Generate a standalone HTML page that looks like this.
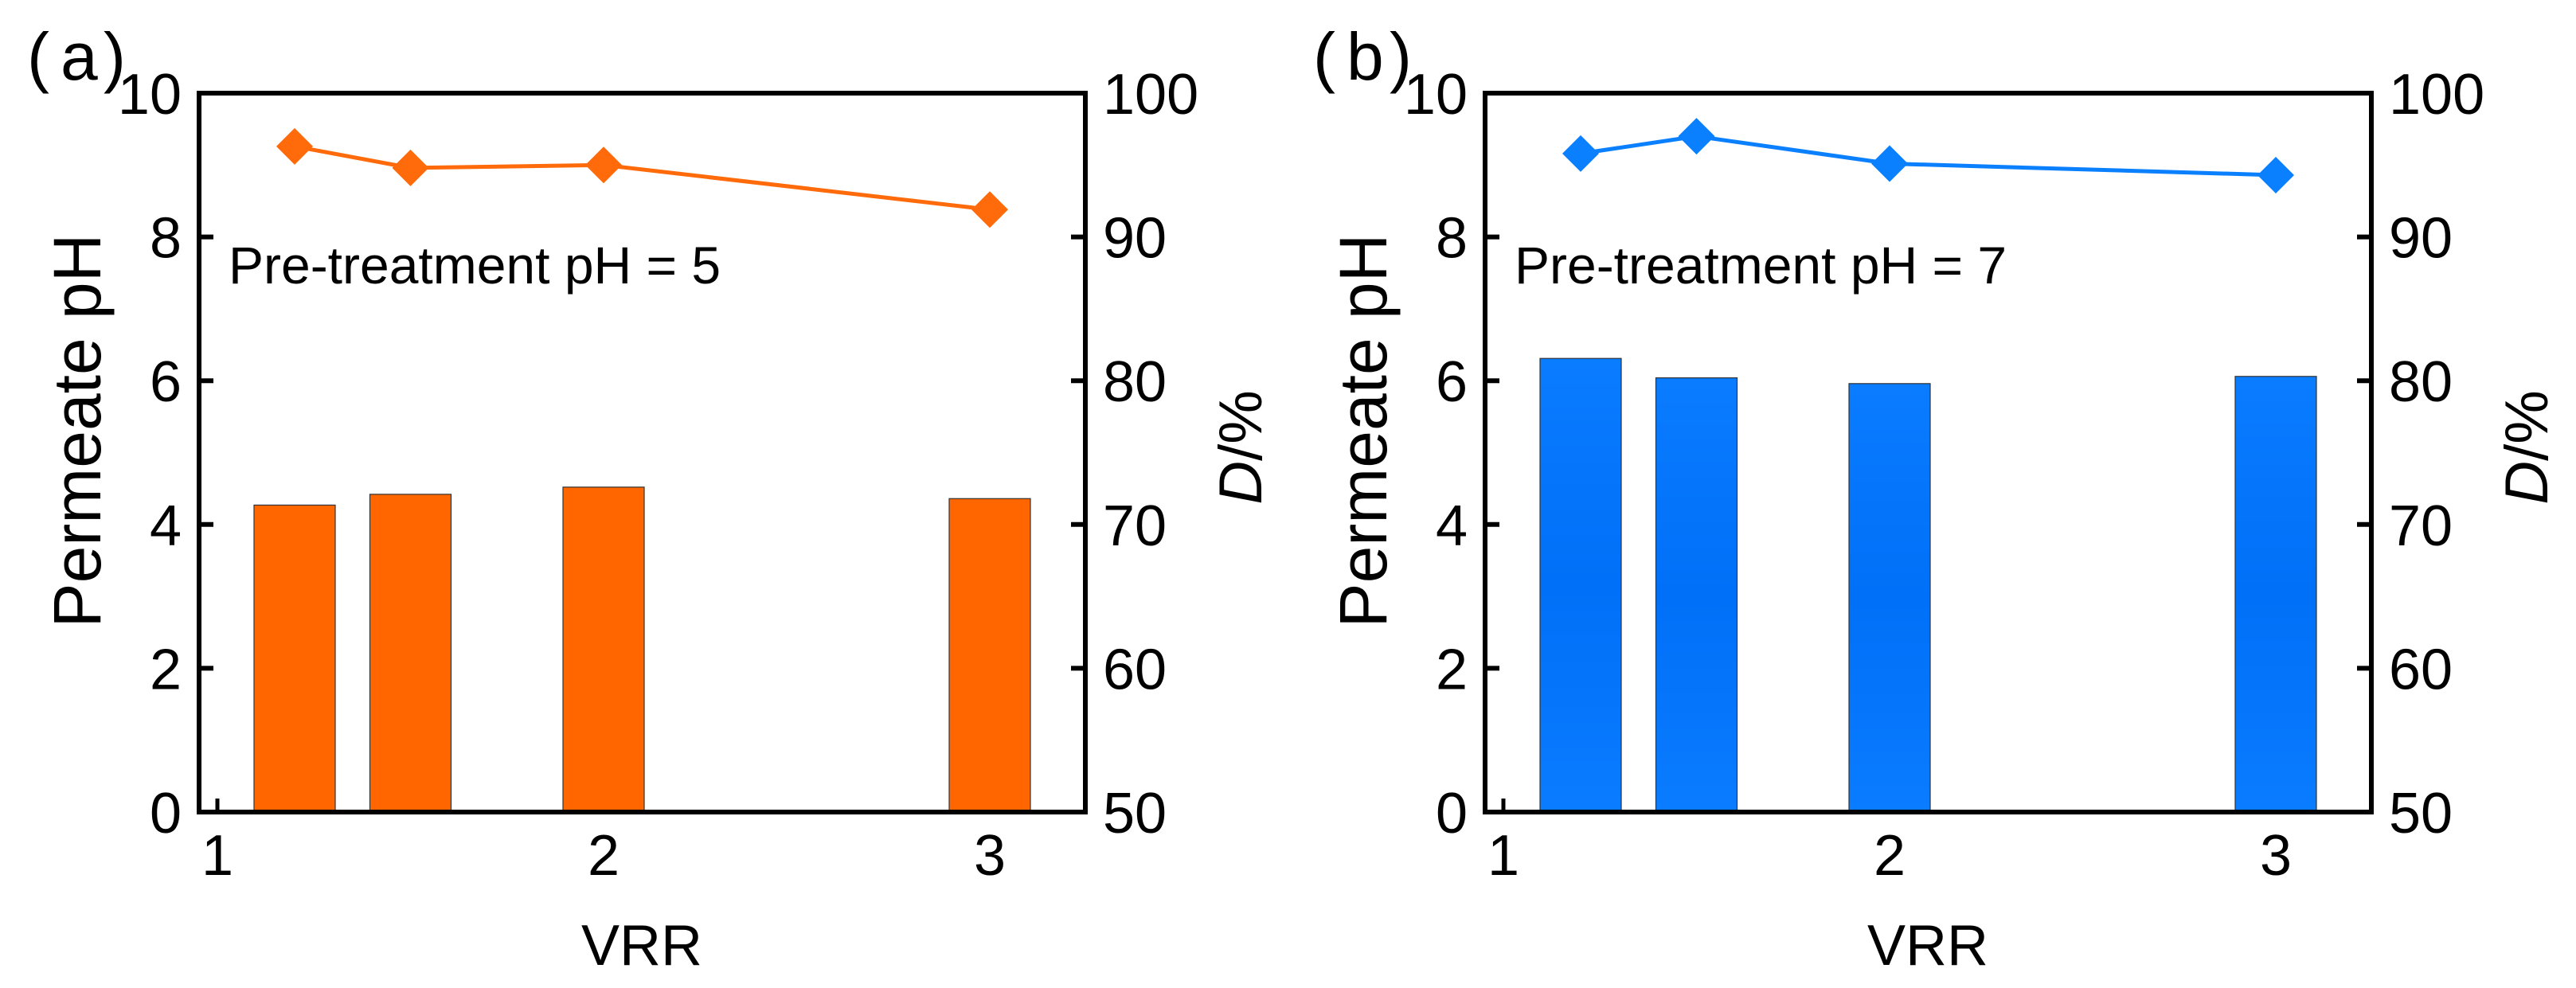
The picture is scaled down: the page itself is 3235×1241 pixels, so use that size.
<!DOCTYPE html>
<html><head><meta charset="utf-8"><style>
html,body{margin:0;padding:0;background:#fff;}
svg{display:block;font-family:"Liberation Sans",Arial,sans-serif;}
</style></head><body>
<svg id="fig" width="3235" height="1241" viewBox="0 0 3235 1241" xmlns="http://www.w3.org/2000/svg">
<defs>
<linearGradient id="blueGrad" x1="0" y1="0" x2="0" y2="1">
<stop offset="0" stop-color="#0a7cff"/><stop offset="0.5" stop-color="#0070f8"/><stop offset="1" stop-color="#0a7cff"/>
</linearGradient>
</defs>
</svg>
<script>
// shared data
const vrrA = [1.2, 1.5, 2.0, 3.0];
const phA = [4.27, 4.42, 4.52, 4.36];
const dA = [96.3, 94.8, 95.0, 91.9];
const vrrB = [1.2, 1.5, 2.0, 3.0];
const phB = [6.31, 6.04, 5.96, 6.06];
const dB = [95.8, 97.0, 95.1, 94.3];
const leftTicks = [0, 2, 4, 6, 8, 10];
const rightTicks = [50, 60, 70, 80, 90, 100];
const xTicks = [1, 2, 3];

const NS = "http://www.w3.org/2000/svg";
const svg = document.getElementById('fig');
function mk(tag, attrs, parent, text) {
  const e = document.createElementNS(NS, tag);
  for (const k in attrs) e.setAttribute(k, attrs[k]);
  if (text !== undefined) e.textContent = text;
  (parent || svg).appendChild(e);
  return e;
}

function panel(off, label, preph, xs, ph, d, barFill, lineColor, key) {
  const L = 250 + off, R = 1363 + off, T = 117, B = 1020;
  const xS = v => (273 + off) + (v - 1) * 485;
  const yL = v => B - (v / 10) * (B - T);
  const yR = v => B - ((v - 50) / 50) * (B - T);
  const g = mk('g', {});
  
  

  xs.forEach((x, i) => {
    const w = 102;
    const r = mk('rect', {x: xS(x) - w / 2, y: yL(ph[i]), width: w, height: B - yL(ph[i]), fill: barFill, stroke: '#333', 'stroke-width': 1.2}, g);
    
    
  });

  const pts = xs.map((x, i) => xS(x) + ',' + yR(d[i])).join(' ');
  const pl = mk('polyline', {points: pts, fill: 'none', stroke: lineColor, 'stroke-width': 5}, g);
  
  
  xs.forEach((x, i) => {
    const cx = xS(x), cy = yR(d[i]), s = 23;
    const p = mk('polygon', {points: `${cx},${cy - s} ${cx + s},${cy} ${cx},${cy + s} ${cx - s},${cy}`, fill: lineColor}, g);
    
    
  });

  const fr = mk('rect', {x: L, y: T, width: R - L, height: B - T, fill: 'none', stroke: '#000', 'stroke-width': 6}, g);
  
  

  leftTicks.forEach(v => {
    const y = yL(v);
    if (v > 0 && v < 10) mk('line', {x1: L, x2: L + 18, y1: y, y2: y, stroke: '#000', 'stroke-width': 6}, g);
    const t = mk('text', {x: 228 + off, y: y + 26, 'font-size': 72, 'text-anchor': 'end'}, g, String(v));
    
    
  });
  rightTicks.forEach(v => {
    const y = yR(v);
    if (v > 50 && v < 100) mk('line', {x1: R - 18, x2: R, y1: y, y2: y, stroke: '#000', 'stroke-width': 6}, g);
    const t = mk('text', {x: 1385 + off, y: y + 26, 'font-size': 72, 'text-anchor': 'start'}, g, String(v));
    
    
  });
  xTicks.forEach(v => {
    const x = xS(v);
    if (v === 1) mk('line', {x1: x, x2: x, y1: B, y2: B - 17, stroke: '#000', 'stroke-width': 5}, g);
    const t = mk('text', {x: x, y: 1099, 'font-size': 72, 'text-anchor': 'middle'}, g, String(v));
    
    
  });

  const xt = mk('text', {x: 806 + off, y: 1212, 'font-size': 72, 'text-anchor': 'middle'}, g, 'VRR');
  
  
  const yt = mk('text', {x: 0, y: 0, 'font-size': 84, 'text-anchor': 'middle', transform: `translate(${126 + off},541) rotate(-90)`}, g, 'Permeate pH');
  
  
  const rt = mk('text', {x: 0, y: 0, 'font-size': 76, 'text-anchor': 'middle', transform: `translate(${1584 + off},562) rotate(-90)`}, g);
  
  
  mk('tspan', {'font-style': 'italic'}, rt, 'D');
  mk('tspan', {}, rt, '/%');

  const an = mk('text', {x: 287 + off, y: 356, 'font-size': 66}, g, 'Pre-treatment pH = ' + preph);
  
  

  const pg = mk('g', {'font-size': 84}, g);
  
  
  mk('text', {x: 34 + off, y: 100}, pg, '(');
  mk('text', {x: 76 + off, y: 100}, pg, label);
  mk('text', {x: 130 + off, y: 100}, pg, ')');
}

panel(0, 'a', 5, vrrA, phA, dA, '#ff6600', '#ff6a0a', 'a');
panel(1615, 'b', 7, vrrB, phB, dB, 'url(#blueGrad)', '#0a80ff', 'b');
</script>
</body></html>
